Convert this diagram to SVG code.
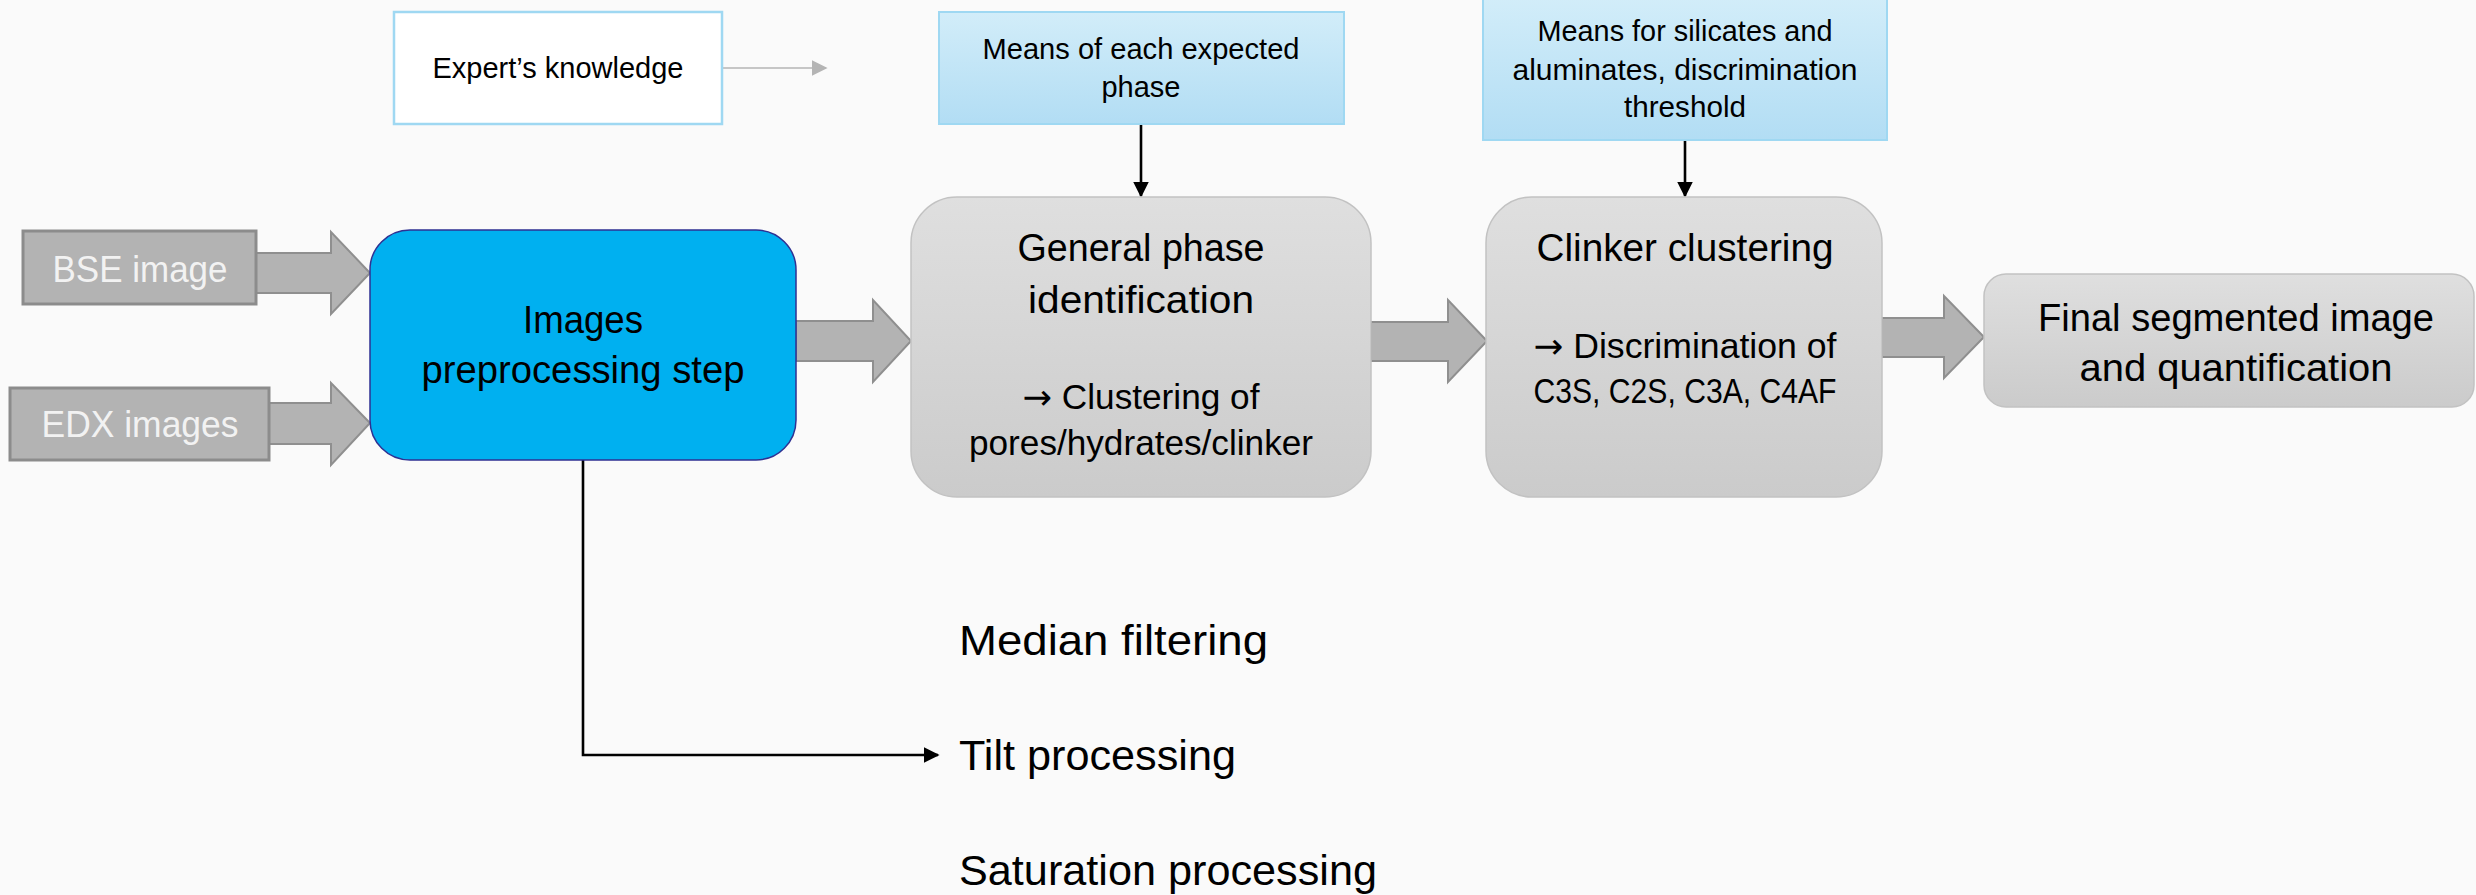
<svg xmlns="http://www.w3.org/2000/svg" width="2476" height="895" viewBox="0 0 2476 895">
  <defs>
    <linearGradient id="greyFill" x1="0" y1="0" x2="0" y2="1">
      <stop offset="0" stop-color="#dfdfdf"/>
      <stop offset="1" stop-color="#cbcbcb"/>
    </linearGradient>
    <linearGradient id="blueFill" x1="0" y1="0" x2="0" y2="1">
      <stop offset="0" stop-color="#d2edf9"/>
      <stop offset="1" stop-color="#b2ddf4"/>
    </linearGradient>
    <marker id="blackHead" viewBox="0 0 10 10" refX="9" refY="5" markerWidth="6" markerHeight="6" markerUnits="strokeWidth" orient="auto">
      <path d="M0,0 L10,5 L0,10 Z" fill="#000"/>
    </marker>
    <marker id="greyHead" viewBox="0 0 10 10" refX="9" refY="5" markerWidth="10" markerHeight="10" markerUnits="strokeWidth" orient="auto">
      <path d="M0,0 L10,5 L0,10 Z" fill="#b4b4b4"/>
    </marker>
  </defs>
  <style>
    text { font-family: "Liberation Sans", Arial, sans-serif; fill: #000; text-anchor: middle; }
    .arrow-glyph { font-family: "DejaVu Sans", sans-serif; }
    .input { fill: #b3b3b3; stroke: #8c8c8c; stroke-width: 3; }
    .input-label { fill: #f2f2f2; font-size: 37px; }
    .block-arrow { fill: #b3b3b3; stroke: #8f8f8f; stroke-width: 2; }
    .step { fill: url(#greyFill); stroke: #c2c2c2; stroke-width: 1.5; }
    .param { fill: url(#blueFill); stroke: #9fd8f2; stroke-width: 2; }
    .title { font-size: 38px; }
    .body { font-size: 35px; }
    .note { font-size: 29px; }
    .sub { font-size: 43px; text-anchor: start; }
    .link { fill: none; stroke: #000; stroke-width: 2.6; }
  </style>

  <rect width="2476" height="895" fill="#fafafa"/>

  <!-- connectors -->
  <g id="connectors">
    <path class="block-arrow" d="M256,253 H331 V232 L370,273 L331,314 V293 H256 Z"/>
    <path class="block-arrow" d="M269,403 H331 V383 L370,423 L331,465 V444 H269 Z"/>
    <path class="block-arrow" d="M796,321 H873 V300 L911,341 L873,382 V361 H796 Z"/>
    <path class="block-arrow" d="M1371,322 H1448 V300 L1487,341 L1448,382 V361 H1371 Z"/>
    <path class="block-arrow" d="M1882,318 H1944 V296 L1984,337 L1944,378 V357 H1882 Z"/>
    <line x1="722" y1="68" x2="826" y2="68" stroke="#b4b4b4" stroke-width="1.6" marker-end="url(#greyHead)"/>
    <line class="link" x1="1141" y1="124" x2="1141" y2="196" marker-end="url(#blackHead)"/>
    <line class="link" x1="1685" y1="140" x2="1685" y2="196" marker-end="url(#blackHead)"/>
    <path class="link" d="M583,460 V755 H938" marker-end="url(#blackHead)"/>
  </g>

  <g id="expert-knowledge">
    <rect x="394" y="12" width="328" height="112" fill="#ffffff" stroke="#9fd8f2" stroke-width="2.5"/>
    <text class="note" x="558" y="78" textLength="251" lengthAdjust="spacingAndGlyphs">Expert’s knowledge</text>
  </g>

  <g id="bse-image">
    <rect class="input" x="23" y="231" width="233" height="73"/>
    <text class="input-label" x="140" y="282" textLength="175" lengthAdjust="spacingAndGlyphs">BSE image</text>
  </g>

  <g id="edx-images">
    <rect class="input" x="10" y="388" width="259" height="72"/>
    <text class="input-label" x="140" y="437" textLength="197" lengthAdjust="spacingAndGlyphs">EDX images</text>
  </g>

  <g id="preprocessing">
    <rect x="370" y="230" width="426" height="230" rx="40" ry="40" fill="#00b0f0" stroke="#2e3192" stroke-width="1.5"/>
    <text class="title" x="583" y="333" textLength="120" lengthAdjust="spacingAndGlyphs">Images</text>
    <text class="title" x="583" y="383" textLength="323" lengthAdjust="spacingAndGlyphs">preprocessing step</text>
  </g>

  <g id="phase-means">
    <rect class="param" x="939" y="12" width="405" height="112"/>
    <text class="note" x="1141" y="59" textLength="317" lengthAdjust="spacingAndGlyphs">Means of each expected</text>
    <text class="note" x="1141" y="97">phase</text>
  </g>

  <g id="general-phase">
    <rect class="step" x="911" y="197" width="460" height="300" rx="46" ry="46"/>
    <text class="title" x="1141" y="261" textLength="247" lengthAdjust="spacingAndGlyphs">General phase</text>
    <text class="title" x="1141" y="313" textLength="226" lengthAdjust="spacingAndGlyphs">identification</text>
    <text class="body" x="1141" y="409" textLength="237" lengthAdjust="spacingAndGlyphs"><tspan class="arrow-glyph">→</tspan> Clustering of</text>
    <text class="body" x="1141" y="455" textLength="344" lengthAdjust="spacingAndGlyphs">pores/hydrates/clinker</text>
  </g>

  <g id="clinker-means">
    <rect class="param" x="1483" y="-2" width="404" height="142"/>
    <text class="note" x="1685" y="41" textLength="295" lengthAdjust="spacingAndGlyphs">Means for silicates and</text>
    <text class="note" x="1685" y="80" textLength="345" lengthAdjust="spacingAndGlyphs">aluminates, discrimination</text>
    <text class="note" x="1685" y="117" textLength="122" lengthAdjust="spacingAndGlyphs">threshold</text>
  </g>

  <g id="clinker-clustering">
    <rect class="step" x="1486" y="197" width="396" height="300" rx="46" ry="46"/>
    <text class="title" x="1685" y="261" textLength="297" lengthAdjust="spacingAndGlyphs">Clinker clustering</text>
    <text class="body" x="1685" y="358" textLength="303" lengthAdjust="spacingAndGlyphs"><tspan class="arrow-glyph">→</tspan> Discrimination of</text>
    <text class="body" x="1685" y="403" textLength="303" lengthAdjust="spacingAndGlyphs">C3S, C2S, C3A, C4AF</text>
  </g>

  <g id="final-result">
    <rect class="step" x="1984" y="274" width="490" height="133" rx="22" ry="22"/>
    <text class="title" x="2236" y="331" textLength="396" lengthAdjust="spacingAndGlyphs">Final segmented image</text>
    <text class="title" x="2236" y="381" textLength="313" lengthAdjust="spacingAndGlyphs">and quantification</text>
  </g>

  <g id="preprocessing-steps">
    <text class="sub" x="959" y="655" textLength="309" lengthAdjust="spacingAndGlyphs">Median filtering</text>
    <text class="sub" x="959" y="770" textLength="277" lengthAdjust="spacingAndGlyphs">Tilt processing</text>
    <text class="sub" x="959" y="885" textLength="418" lengthAdjust="spacingAndGlyphs">Saturation processing</text>
  </g>
</svg>
